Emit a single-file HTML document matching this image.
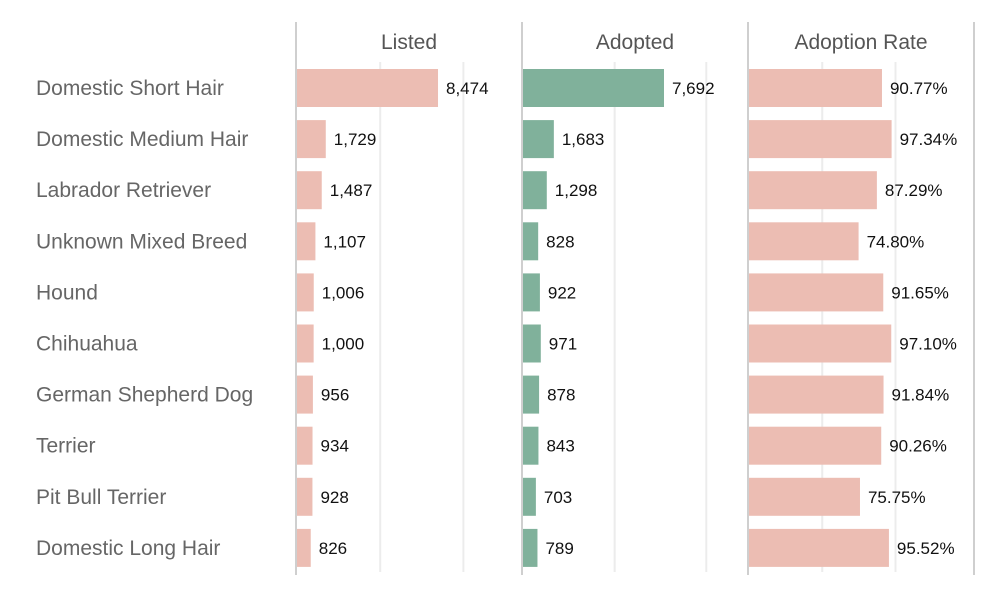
<!DOCTYPE html>
<html><head><meta charset="utf-8"><style>
body{margin:0;background:#fff;font-family:"Liberation Sans",sans-serif;}
svg text{font-family:"Liberation Sans",sans-serif;}
</style></head><body>
<svg id="chart" width="1000" height="600"></svg>
<script>
const breeds=["Domestic Short Hair","Domestic Medium Hair","Labrador Retriever","Unknown Mixed Breed","Hound","Chihuahua","German Shepherd Dog","Terrier","Pit Bull Terrier","Domestic Long Hair"];
const listed=[8474,1729,1487,1107,1006,1000,956,934,928,826];
const adopted=[7692,1683,1298,828,922,971,878,843,703,789];
const rates=[90.77,97.34,87.29,74.80,91.65,97.10,91.84,90.26,75.75,95.52];
const headers=["Listed","Adopted","Adoption Rate"];
const NS="http://www.w3.org/2000/svg";
const svg=document.getElementById('chart');
function mk(t,a,p){const e=document.createElementNS(NS,t);for(const k in a)e.setAttribute(k,a[k]);(p||svg).appendChild(e);return e;}
const panels=[
 {x0:297,scale:v=>v*0.01664,grid:[5000,10000],vals:listed,fmt:v=>v.toLocaleString('en-US'),color:"#ecbdb3"},
 {x0:523,scale:v=>v*0.01833,grid:[5000,10000],vals:adopted,fmt:v=>v.toLocaleString('en-US'),color:"#80b19b"},
 {x0:749,scale:v=>v*1.465,grid:[50,100],vals:rates,fmt:v=>v.toFixed(2)+"%",color:"#ecbdb3"}
];
const rowY=i=>88+i*51.1;
panels.forEach((p,pi)=>{
  p.grid.forEach(g=>{
    const l=mk('line',{x1:p.x0+p.scale(g),x2:p.x0+p.scale(g),y1:62,y2:572,stroke:"#ececec","stroke-width":2});
    
    
  });
  const ax=mk('line',{x1:p.x0-1,x2:p.x0-1,y1:22,y2:575,stroke:"#cfcfcf","stroke-width":2});
  
  
  const h=mk('text',{x:p.x0+112,y:49,"text-anchor":"middle","font-size":21,fill:"#555"});
  h.textContent=headers[pi];
  
  
  p.vals.forEach((v,i)=>{
    const w=p.scale(v);
    const r=mk('rect',{x:p.x0,y:rowY(i)-19,width:w,height:38,fill:p.color});
    
    
    const t=mk('text',{x:p.x0+w+8,y:rowY(i)+6,"font-size":17,fill:"#111"});
    t.textContent=p.fmt(v);
    
    
  });
});
const rb=mk('line',{x1:974,x2:974,y1:22,y2:575,stroke:"#cfcfcf","stroke-width":2});


breeds.forEach((b,i)=>{
  const t=mk('text',{x:36,y:rowY(i)+7,"font-size":21,fill:"#666"});
  t.textContent=b;
  
  
});
</script>
</body></html>
